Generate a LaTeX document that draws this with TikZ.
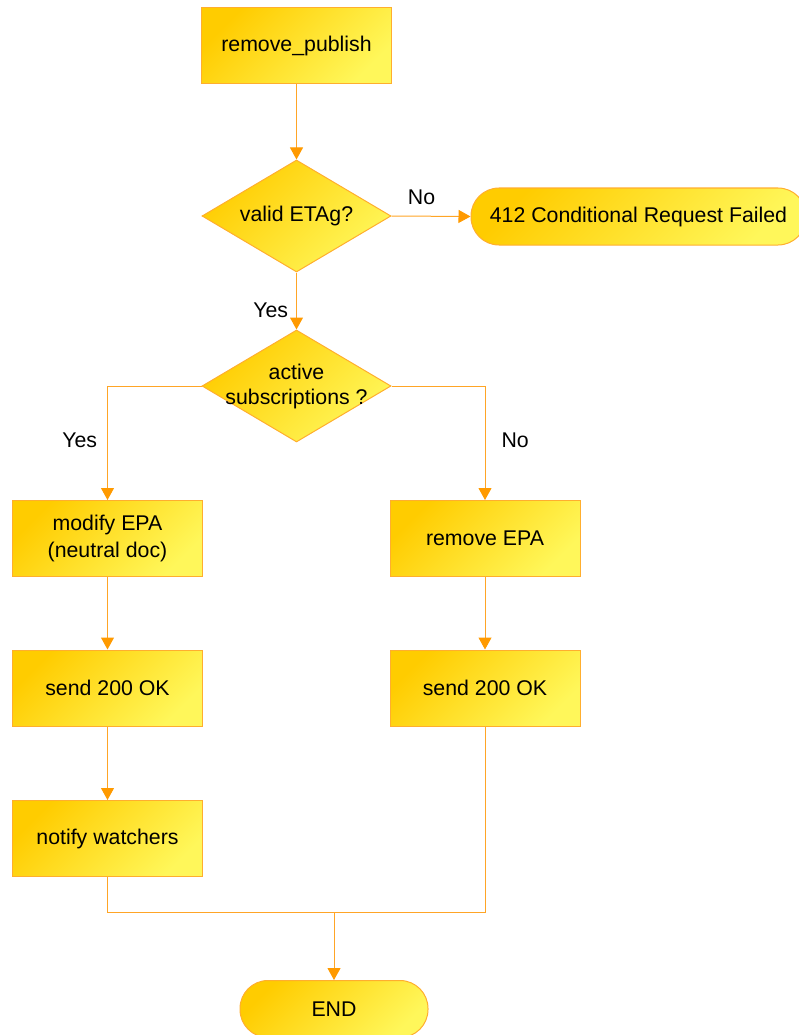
\documentclass[tikz,border=0pt]{standalone}
\usepackage{fontspec}
\setmainfont{Liberation Sans}
\usetikzlibrary{shapes.geometric, arrows.meta}
\definecolor{fillA}{HTML}{FFCC00}
\definecolor{fillB}{HTML}{FFF75A}
\definecolor{edgec}{HTML}{FFAE2E}
\definecolor{linec}{HTML}{FFA526}
\definecolor{tipc}{HTML}{FF9A00}
\tikzset{
  base/.style={draw=edgec, line width=1pt, top color=fillA, bottom color=fillB,
    shading angle=45, text=black, inner sep=0pt,
    font=\fontsize{21.3}{26.5}\selectfont},
  proc/.style={base, rectangle, minimum width=190pt, minimum height=76pt, align=center},
  dec/.style={base, diamond, minimum width=189pt, minimum height=112pt},
  term/.style={base, rectangle, rounded corners=28pt, minimum height=57pt},
  txt/.style={inner sep=0pt, text=black, align=center, font=\fontsize{21.3}{25}\selectfont},
  lbl/.style={inner sep=0pt, text=black, font=\fontsize{21.3}{25}\selectfont},
  wire/.style={draw=linec, line width=1pt},
  conn/.style={wire, -{Triangle[width=13pt,length=12pt,color=tipc,fill=tipc]}}
}
\begin{document}
\begin{tikzpicture}[x=1pt, y=-1pt]
\useasboundingbox (0,0) rectangle (799,1035);
\clip (0,0) rectangle (799,1035);

\node[proc] (rp) at (296.5,46) {remove\_publish};
\node[dec] (d1) at (296.5,216) {};
\node[txt] (d1t) at (d1.center) {valid ETAg?};
\node[term, minimum width=335pt] (t412) at (638.5,216.5) {412 Conditional Request Failed};
\node[dec] (d2) at (296.5,386) {};
\node[txt] (d2t) at (d2.center) {active\\subscriptions ?};
\node[proc] (m1) at (107.5,538.5) {modify EPA\\(neutral doc)};
\node[proc] (re) at (485,538.5) {remove EPA};
\node[proc] (s1) at (107.5,688) {send 200 OK};
\node[proc] (s2) at (485,688) {send 200 OK};
\node[proc] (nw) at (107.5,838.5) {notify watchers};
\node[term, minimum width=188pt] (end) at (334,1009) {END};

\coordinate (j) at (334,912);

\draw[conn] (rp.south) -- (d1.north);
\draw[conn] (d1.east) -- node[lbl, pos=0.38, above=11pt] (no1) {No} (t412.west);
\draw[conn] (d1.south) -- node[lbl, pos=0.67, left=8pt] (yes1) {Yes} (d2.north);
\draw[conn] (d2.west) -| node[lbl, pos=0.74, left=10pt] (yes2) {Yes} (m1.north);
\draw[conn] (d2.east) -| node[lbl, pos=0.74, right=16pt] (no2) {No} (re.north);
\draw[conn] (m1.south) -- (s1.north);
\draw[conn] (re.south) -- (s2.north);
\draw[conn] (s1.south) -- (nw.north);
\draw[wire] (nw.south) |- (j) -| (s2.south);
\draw[conn] (j) -- (end.north);
\end{tikzpicture}
\end{document}
